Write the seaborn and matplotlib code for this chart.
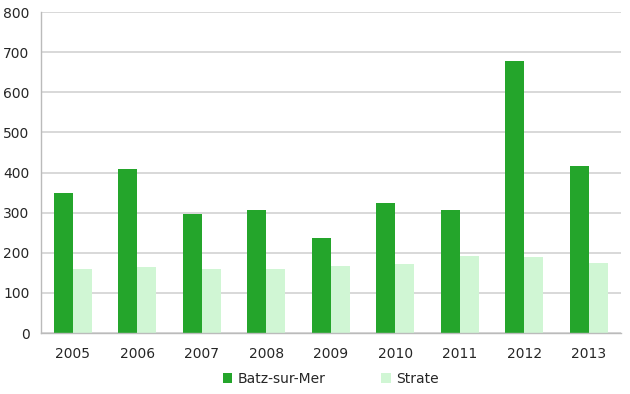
import matplotlib
matplotlib.use("Agg")
import matplotlib.pyplot as plt
import seaborn as sns
import pandas as pd
import numpy as np

years = ["2005", "2006", "2007", "2008", "2009", "2010", "2011", "2012", "2013"]
batz = [348, 409, 297, 306, 238, 324, 306, 677, 416]
strate = [160, 165, 160, 159, 167, 172, 191, 189, 175]
series_names = ["Batz-sur-Mer", "Strate"]
colors = ["#24A52B", "#D0F6D4"]
yticks = [0, 100, 200, 300, 400, 500, 600, 700, 800]

df = pd.DataFrame({
    "year": years * 2,
    "value": batz + strate,
    "series": [series_names[0]] * len(years) + [series_names[1]] * len(years),
})

sns.set_style("white")
plt.rcParams["font.family"] = ["DejaVu Sans"]

fig = plt.figure(figsize=(6.3, 3.94), dpi=100)
ax = fig.add_axes([0.0646, 0.1548, 0.9214, 0.8147])

sns.barplot(data=df, x="year", y="value", hue="series", palette=colors,
            width=0.59, saturation=1, ax=ax, legend=True, linewidth=0,
            edgecolor="none")

ax.set_ylim(0, 800)
ax.set_xlim(-0.5, len(years) - 0.5)
ax.set_yticks(yticks)
ax.set_yticklabels([str(v) for v in yticks], fontsize=10)
ax.tick_params(axis="x", labelsize=10, length=0, pad=10)
ax.tick_params(axis="y", length=4, color="#BBBBBB", pad=4, width=1)
ax.set_xlabel("")
ax.set_ylabel("")
ax.set_axisbelow(True)
ax.yaxis.grid(True, color="#D2D2D2", linewidth=1.2)
ax.xaxis.grid(False)
for s in ["top", "right"]:
    ax.spines[s].set_visible(False)
ax.spines["left"].set_color("#BBBBBB")
ax.spines["bottom"].set_color("#BBBBBB")
ax.spines["left"].set_linewidth(1)
ax.spines["bottom"].set_linewidth(1)

# category boundary tick marks below the x axis
ax.set_xticks(np.arange(-0.5, len(years) + 0.5, 1.0), minor=True)
ax.tick_params(axis="x", which="minor", length=4, color="#BBBBBB", width=1)

leg = ax.legend(loc="center", bbox_to_anchor=(0.5, -0.143), ncol=2,
                frameon=False, fontsize=10, handlelength=0.7, handleheight=0.7,
                columnspacing=4.0, handletextpad=0.4, borderpad=0)

fig.savefig("out.png", dpi=100)
